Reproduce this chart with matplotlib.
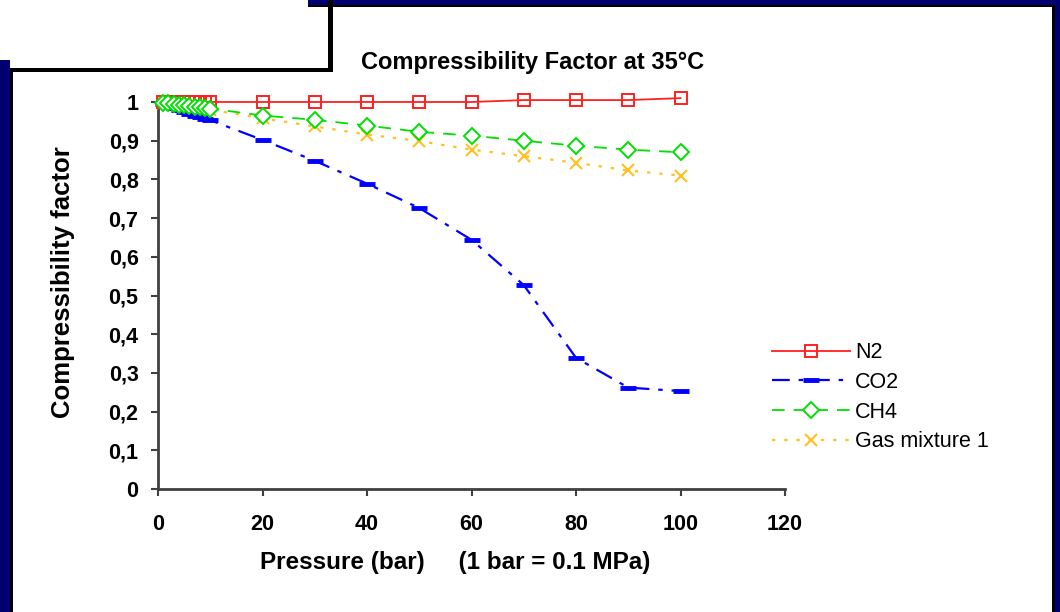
import matplotlib
matplotlib.use("Agg")
import matplotlib.pyplot as plt
from matplotlib.patches import Rectangle

pressure = [1, 2, 3, 4, 5, 6, 7, 8, 9, 10, 20, 30, 40, 50, 60, 70, 80, 90, 100]
n2 = [1.0, 1.0, 1.0, 1.0, 1.0, 1.0, 1.0, 1.0, 1.0, 1.0, 1.0, 1.0, 1.0, 1.0, 1.0, 1.005, 1.005, 1.005, 1.01]
co2 = [0.995, 0.99, 0.985, 0.98, 0.975, 0.97, 0.965, 0.96, 0.957, 0.953, 0.902, 0.848, 0.789, 0.726, 0.644, 0.527, 0.339, 0.262, 0.253]
ch4 = [0.998, 0.997, 0.995, 0.993, 0.992, 0.99, 0.988, 0.987, 0.985, 0.983, 0.965, 0.954, 0.939, 0.923, 0.913, 0.9, 0.887, 0.877, 0.87]
gas1 = [0.998, 0.996, 0.994, 0.992, 0.99, 0.988, 0.986, 0.984, 0.982, 0.98, 0.958, 0.937, 0.916, 0.899, 0.877, 0.86, 0.843, 0.823, 0.81]
series_names = ["N2", "CO2", "CH4", "Gas mixture 1"]
x_ticks = [0, 20, 40, 60, 80, 100, 120]
y_ticks = [0, 0.1, 0.2, 0.3, 0.4, 0.5, 0.6, 0.7, 0.8, 0.9, 1.0]
y_tick_labels = ["0", "0,1", "0,2", "0,3", "0,4", "0,5", "0,6", "0,7", "0,8", "0,9", "1"]

plt.rcParams['font.family'] = ['Liberation Sans', 'DejaVu Sans']

W, H = 1060, 612
fig = plt.figure(figsize=(W / 100, H / 100), dpi=100)
fig.patch.set_facecolor("white")

def rect(x0, y0, x1, y1, color):
    fig.add_artist(Rectangle((x0 / W, 1 - y1 / H), (x1 - x0) / W, (y1 - y0) / H,
                             transform=fig.transFigure, facecolor=color,
                             edgecolor="none", zorder=0))

navy = "#000070"
# decorative frame
rect(308, 0, 1060, 5, navy)
rect(308, 5, 1053, 7, "black")
rect(1055, 0, 1060, 612, navy)
rect(1052, 5, 1055, 612, "black")
rect(0, 60, 10, 612, navy)
rect(10, 68, 13, 612, "black")
rect(10, 68, 333, 72, "black")
rect(328, 0, 333, 72, "black")

ax = fig.add_axes([158 / W, 1 - 489 / H, (785 - 158) / W, (489 - 102) / H])
ax.set_xlim(0, 120)
ax.set_ylim(0, 1)

ax.plot(pressure, n2, color="#FF2020", lw=1.3, marker="s", markersize=8,
        markerfacecolor="none", markeredgecolor="#FF2020", markeredgewidth=1.4,
        label=series_names[0], clip_on=False, zorder=5)
ax.plot(pressure, co2, color="#0000FF", lw=1.6, dashes=(8, 4, 2, 4),
        marker="_", markersize=11, markeredgewidth=3.5,
        label=series_names[1], clip_on=False, zorder=4)
ax.plot(pressure, ch4, color="#00E000", lw=1.3, dashes=(7, 5),
        marker="D", markersize=8, markerfacecolor="white", markeredgecolor="#00E000",
        markeredgewidth=1.4, label=series_names[2], clip_on=False, zorder=6)
ax.plot(pressure, gas1, color="#FFC020", lw=1.6, dashes=(1.5, 4),
        marker="x", markersize=8, markeredgewidth=1.5,
        label=series_names[3], clip_on=False, zorder=3)

for s in ["top", "right"]:
    ax.spines[s].set_visible(False)
for s in ["left", "bottom"]:
    ax.spines[s].set_color("#404040")
    ax.spines[s].set_linewidth(2)

ax.set_xticks(x_ticks)
ax.set_xticklabels([str(v) for v in x_ticks])
ax.set_yticks(y_ticks)
ax.set_yticklabels(y_tick_labels)
ax.tick_params(axis="both", direction="out", length=5, width=1.5, color="#404040",
               labelsize=15.5, pad=9)
ax.tick_params(axis="x", pad=13)
for lab in ax.get_xticklabels() + ax.get_yticklabels():
    lab.set_fontweight("bold")

fig.text(455 / W, 1 - 563 / H, "Pressure (bar)     (1 bar = 0.1 MPa)", fontsize=17.5,
         fontweight="bold", ha="center", va="center")
fig.text(63 / W, 1 - 282 / H, "Compressibility factor", fontsize=18.5,
         fontweight="bold", ha="center", va="center", rotation=90)
fig.text(533 / W, 1 - 62 / H, "Compressibility Factor at 35°C", fontsize=17,
         fontweight="bold", ha="center", va="center")

leg = ax.legend(loc="upper left", bbox_to_anchor=(753 / W, 1 - 323 / H),
                bbox_transform=fig.transFigure, frameon=False, fontsize=15.5,
                handlelength=3.6, handletextpad=0.25, labelspacing=0.4)

fig.savefig("out.png", dpi=100)
